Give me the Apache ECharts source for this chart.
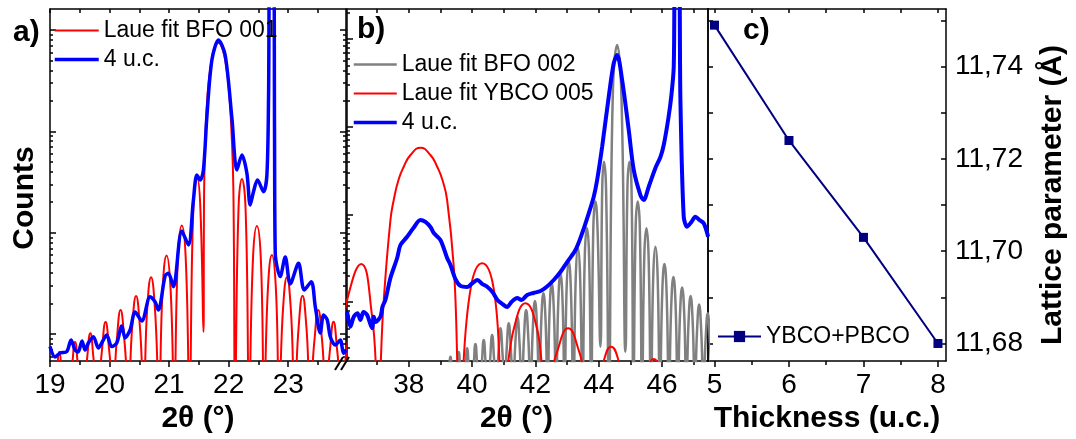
<!DOCTYPE html>
<html>
<head>
<meta charset="utf-8">
<script src="https://cdn.jsdelivr.net/npm/echarts@6/dist/echarts.min.js"></script>
<style>html,body{margin:0;padding:0;background:#fff;}#chart{width:1076px;height:439px;}</style>
</head>
<body>
<div id="chart"></div>
<script>
// ---------- DATA: [2θ (°), log10(Counts)] ; values below the axis minimum mark fringe minima that leave the plot ----------
// Panel a: Laue fit BFO 001
const aLaueFit001 = [
  [19.025,0.45],[19.092,0.525],[19.156,0.825],[19.220,0.525],[19.286,0.45],[19.356,0.621],[19.420,0.921],[19.484,0.621],
  [19.550,0.45],[19.613,0.707],[19.677,1.007],[19.741,0.707],[19.807,0.45],[19.869,0.818],[19.933,1.118],[19.997,0.818],
  [20.059,0.45],[20.121,0.937],[20.185,1.237],[20.249,0.937],[20.316,0.45],[20.381,1.075],[20.445,1.375],[20.509,1.075],
  [20.571,0.45],[20.633,1.260],[20.697,1.560],[20.761,1.260],[20.829,0.45],[20.894,1.475],[20.958,1.775],[21.022,1.475],
  [21.084,0.45],[21.149,1.771],[21.213,2.071],[21.277,1.771],[21.341,0.45],[21.407,2.240],[21.471,2.540],[21.525,2.240],
  [21.576,1.020],[21.588,2.422],[21.610,2.964],[21.649,3.389],[21.699,3.646],[21.766,3.823],[21.829,3.876],[21.891,3.823],
  [21.958,3.646],[22.008,3.389],[22.050,2.964],[22.079,2.422],[22.109,0.45],[22.165,2.230],[22.222,2.530],[22.284,2.230],
  [22.345,0.45],[22.410,1.766],[22.474,2.066],[22.538,1.766],[22.597,0.45],[22.662,1.480],[22.726,1.780],[22.790,1.480],
  [22.849,0.45],[22.914,1.260],[22.978,1.560],[23.042,1.260],[23.109,0.45],[23.176,1.078],[23.240,1.378],[23.304,1.078],
  [23.370,0.45],[23.440,0.937],[23.504,1.237],[23.568,0.937],[23.634,0.45],[23.697,0.821],[23.761,1.121],[23.825,0.821],
  [23.891,0.45],[23.956,0.720],[24.020,1.020]
];
// Panel a: 4 u.c. measurement
const aMeasured4uc = [
  [19.000,0.875],[19.084,0.773],[19.168,0.812],[19.281,0.825],[19.353,0.941],[19.420,0.842],[19.471,0.822],[19.538,0.931],
  [19.588,0.842],[19.644,0.911],[19.728,0.973],[19.812,0.862],[19.896,0.941],[19.953,0.990],[20.037,0.875],[20.121,0.911],
  [20.205,1.079],[20.261,0.961],[20.345,1.039],[20.429,1.217],[20.541,1.128],[20.681,1.368],[20.765,1.316],[20.820,1.237],
  [20.933,1.573],[20.988,1.599],[21.072,1.467],[21.213,2.017],[21.324,1.879],[21.408,2.323],[21.466,2.570],[21.521,2.520],
  [21.576,2.619],[21.634,3.145],[21.718,3.705],[21.829,3.902],[21.941,3.754],[22.054,3.132],[22.138,2.619],[22.222,2.767],
  [22.306,2.586],[22.361,2.273],[22.417,2.405],[22.484,2.520],[22.585,2.405],[22.642,2.570],[22.669,3.310],[22.697,5.0],
  [22.752,5.0],[22.770,2.984],[22.782,1.800],[22.866,1.566],[22.950,1.760],[23.034,1.494],[23.173,1.698],[23.269,1.434],
  [23.387,1.516],[23.454,1.270],[23.538,1.010],[23.593,1.188],[23.655,1.138],[23.706,0.973],[23.790,0.891],[23.874,0.941],
  [23.929,0.809],[23.975,0.842]
];
// Panel b: Laue fit BFO 002
const bLaueFitBFO002 = [
  [39.190,0.0],[39.251,0.076],[39.317,0.376],[39.383,0.076],[39.448,0.0],[39.513,0.130],[39.579,0.430],[39.645,0.130],
  [39.711,0.0],[39.778,0.172],[39.844,0.472],[39.910,0.172],[39.975,0.0],[40.040,0.221],[40.106,0.521],[40.172,0.221],
  [40.237,0.0],[40.302,0.267],[40.368,0.567],[40.434,0.267],[40.500,0.0],[40.567,0.324],[40.633,0.624],[40.699,0.324],
  [40.765,0.0],[40.830,0.400],[40.896,0.700],[40.962,0.400],[41.027,0.0],[41.092,0.457],[41.158,0.757],[41.224,0.457],
  [41.295,0.0],[41.366,0.532],[41.432,0.832],[41.498,0.532],[41.570,0.0],[41.641,0.609],[41.707,0.909],[41.773,0.609],
  [41.846,0.0],[41.919,0.711],[41.985,1.011],[42.051,0.711],[42.119,0.0],[42.187,0.799],[42.253,1.099],[42.319,0.799],
  [42.384,0.0],[42.449,0.913],[42.515,1.213],[42.581,0.913],[42.653,0.0],[42.724,1.019],[42.790,1.319],[42.856,1.019],
  [42.921,0.0],[42.986,1.160],[43.052,1.460],[43.118,1.160],[43.198,0.0],[43.277,1.316],[43.343,1.616],[43.409,1.316],
  [43.485,0.0],[43.561,1.544],[43.627,1.844],[43.693,1.544],[43.761,0.0],[43.829,1.846],[43.895,2.146],[43.960,1.846],
  [44.053,0.490],[44.110,2.300],[44.164,2.600],[44.230,2.300],[44.321,0.0],[44.442,3.342],[44.580,3.931],[44.717,3.342],
  [44.843,0.433],[44.906,2.300],[44.969,2.600],[45.035,2.300],[45.095,0.0],[45.165,1.846],[45.231,2.146],[45.297,1.846],
  [45.368,0.0],[45.440,1.541],[45.506,1.841],[45.572,1.541],[45.648,0.0],[45.724,1.331],[45.790,1.631],[45.856,1.331],
  [45.932,0.0],[46.008,1.133],[46.074,1.433],[46.140,1.133],[46.216,0.0],[46.292,0.985],[46.358,1.285],[46.424,0.985],
  [46.495,0.0],[46.567,0.865],[46.633,1.165],[46.699,0.865],[46.767,0.0],[46.835,0.768],[46.901,1.068],[46.967,0.768],
  [47.035,0.0],[47.104,0.671],[47.170,0.971],[47.236,0.671],[47.305,0.0],[47.375,0.571],[47.441,0.871],[47.507,0.571],
  [47.580,0.0]
];
// Panel b: Laue fit YBCO 005
const bLaueFitYBCO005 = [
  [35.900,0.60],[36.055,1.023],[36.497,1.433],[36.844,0.832],[37.027,0.0],[37.211,1.023],[37.422,1.935],[37.526,2.163],
  [37.675,2.392],[37.842,2.543],[38.054,2.677],[38.369,2.760],[38.685,2.677],[38.897,2.543],[39.064,2.392],[39.212,2.163],
  [39.421,1.403],[39.632,0.0],[39.958,1.161],[40.318,1.441],[40.678,1.161],[40.990,0.0],[41.325,0.705],[41.685,0.985],
  [42.045,0.705],[42.348,0.0],[42.673,0.420],[43.033,0.700],[43.393,0.420],[43.706,0.0],[44.031,0.210],[44.391,0.490],
  [44.751,0.210],[45.064,0.0],[45.376,0.070],[45.736,0.350],[46.096,0.070],[46.420,0.0]
];
// Panel b: 4 u.c. measurement
const bMeasured4uc = [
  [36.055,0.886],[36.159,0.718],[36.263,0.832],[36.380,0.871],[36.475,0.795],[36.570,0.886],[36.686,0.852],[36.844,0.700],
  [36.895,0.832],[36.949,0.772],[37.106,0.832],[37.170,0.946],[37.263,1.023],[37.421,1.274],[37.634,1.502],[37.738,1.650],
  [37.949,1.745],[38.148,1.844],[38.369,1.935],[38.527,1.913],[38.685,1.855],[38.789,1.787],[39.001,1.707],[39.212,1.502],
  [39.317,1.422],[39.475,1.262],[39.632,1.183],[39.844,1.171],[39.980,1.205],[40.169,1.251],[40.327,1.205],[40.485,1.171],
  [40.643,1.114],[40.801,1.023],[40.959,0.977],[41.107,0.943],[41.243,1.000],[41.423,1.046],[41.559,1.023],[41.739,1.080],
  [41.938,1.103],[42.159,1.125],[42.348,1.171],[42.578,1.251],[42.790,1.342],[43.002,1.456],[43.264,1.593],[43.475,1.784],
  [43.684,2.012],[43.842,2.201],[43.949,2.392],[44.107,2.771],[44.315,3.342],[44.473,3.723],[44.580,3.817],[44.738,3.532],
  [44.947,2.962],[45.105,2.506],[45.316,2.220],[45.420,2.163],[45.578,2.315],[45.790,2.528],[45.948,2.654],[46.052,2.791],
  [46.200,3.099],[46.295,3.361],[46.368,3.684],[46.421,5.0],[46.525,5.0],[46.579,3.304],[46.683,1.973],[46.791,1.859],
  [46.926,1.913],[47.053,1.973],[47.179,1.935],[47.315,1.898],[47.454,1.745]
];
// Panel c
const cThickness = [5, 6, 7, 8];
const cLattice = [11.749, 11.724, 11.703, 11.680];

// Tick values
const aXTicks = [19, 20, 21, 22, 23];
const aXMinor = [19.5, 20.5, 21.5, 22.5, 23.5];
const bXTicks = [38, 40, 42, 44, 46];
const bXMinor = [37, 39, 41, 43, 45, 47];
const cXTicks = [5, 6, 7, 8];
const cXMinor = [5.5, 6.5, 7.5];
const logDecades = [1, 2, 3, 4];
const cYTicks = [11.68, 11.69, 11.70, 11.71, 11.72, 11.73, 11.74, 11.75];
const cYLabels = [11.68, 11.70, 11.72, 11.74];

// ---------- CHART ----------
const FONT = '"Liberation Sans", Arial, Helvetica, sans-serif';
const K = '#000';
const zip = (xs, ys) => xs.map((x, i) => [x, ys[i]]);
function logMinor(lo, hi) {
  const out = [];
  for (let n = -1; n <= 5; n++) for (let k = 2; k <= 9; k++) {
    const v = n + Math.log10(k);
    if (v > lo && v < hi) out.push(v);
  }
  return out;
}
function ax(o) {
  return {
    gridIndex: o.grid, type: 'value', min: o.min, max: o.max, position: o.pos,
    axisLine: { show: !!o.line, onZero: false, lineStyle: { color: K, width: 1.5 } },
    axisTick: { show: true, inside: !!o.inside, length: o.len, customValues: o.ticks, lineStyle: { color: K, width: 1.5 } },
    axisLabel: o.labels ? { show: true, customValues: o.labels, color: K, fontSize: 28, fontFamily: FONT, margin: o.margin, formatter: o.fmt } : { show: false },
    splitLine: { show: false }, minorTick: { show: false }, minorSplitLine: { show: false },
    name: o.name || '', nameLocation: 'middle', nameGap: o.nameGap || 0,
    nameTextStyle: { fontSize: 30, fontWeight: 'bold', color: K, fontFamily: FONT, padding: o.namePad || 0 },
    axisPointer: { show: false }, silent: true
  };
}
const A = { x: [19, 23.97], y: [0.733, 4.208] };
const B = { x: [36.05, 47.45], y: [0.327, 4.342] };
const C = { x: [4.913, 8.108], y: [11.6762, 11.7525] };

const xAxis = [
  ax({ grid: 0, min: A.x[0], max: A.x[1], pos: 'bottom', line: true, len: 6, ticks: aXTicks, labels: aXTicks, margin: 10, name: '2θ (°)', nameGap: 42 }),
  ax({ grid: 0, min: A.x[0], max: A.x[1], pos: 'bottom', len: 4, ticks: aXMinor }),
  ax({ grid: 0, min: A.x[0], max: A.x[1], pos: 'top', line: true, inside: true, len: 4, ticks: aXTicks.concat(aXMinor) }),
  ax({ grid: 1, min: B.x[0], max: B.x[1], pos: 'bottom', line: true, len: 6, ticks: bXTicks, labels: bXTicks, margin: 10, name: '2θ (°)', nameGap: 42, namePad: [0, 22, 0, 0] }),
  ax({ grid: 1, min: B.x[0], max: B.x[1], pos: 'bottom', len: 4, ticks: bXMinor }),
  ax({ grid: 1, min: B.x[0], max: B.x[1], pos: 'top', line: true, inside: true, len: 4, ticks: bXTicks.concat(bXMinor) }),
  ax({ grid: 2, min: C.x[0], max: C.x[1], pos: 'bottom', line: true, len: 6, ticks: cXTicks, labels: cXTicks, margin: 10, name: 'Thickness (u.c.)', nameGap: 42 }),
  ax({ grid: 2, min: C.x[0], max: C.x[1], pos: 'bottom', len: 4, ticks: cXMinor }),
  ax({ grid: 2, min: C.x[0], max: C.x[1], pos: 'top', line: true, inside: true, len: 4, ticks: cXTicks.concat(cXMinor) })
];
const yAxis = [
  ax({ grid: 0, min: A.y[0], max: A.y[1], pos: 'left', line: true, inside: true, len: 6, ticks: logDecades }),
  ax({ grid: 0, min: A.y[0], max: A.y[1], pos: 'left', inside: true, len: 3, ticks: logMinor(A.y[0], A.y[1]) }),
  ax({ grid: 0, min: A.y[0], max: A.y[1], pos: 'right', line: true, inside: true, len: 6, ticks: logDecades }),
  ax({ grid: 0, min: A.y[0], max: A.y[1], pos: 'right', inside: true, len: 3, ticks: logMinor(A.y[0], A.y[1]) }),
  ax({ grid: 1, min: B.y[0], max: B.y[1], pos: 'left', line: true, inside: true, len: 6, ticks: logDecades }),
  ax({ grid: 1, min: B.y[0], max: B.y[1], pos: 'left', inside: true, len: 3, ticks: logMinor(B.y[0], B.y[1]) }),
  ax({ grid: 1, min: B.y[0], max: B.y[1], pos: 'right', line: true, inside: true, len: 0, ticks: [] }),
  ax({ grid: 2, min: C.y[0], max: C.y[1], pos: 'left', line: true, inside: true, len: 5, ticks: cYTicks }),
  ax({ grid: 2, min: C.y[0], max: C.y[1], pos: 'right', line: true, inside: true, len: 5, ticks: cYTicks, labels: cYLabels, margin: 9,
       fmt: v => Number(v).toFixed(2).replace('.', ',') })
];

function lineSeries(name, xi, yi, data, color, width, smooth) {
  return {
    type: 'line', name, xAxisIndex: xi, yAxisIndex: yi, data,
    symbol: 'none', smooth, clip: true, silent: true,
    lineStyle: { color, width }, itemStyle: { color }
  };
}

const series = [
  lineSeries('Laue fit BFO 001', 0, 0, aLaueFit001, '#ff0000', 2, 0.5),
  lineSeries('4 u.c.', 0, 0, aMeasured4uc, '#0000ff', 3.5, 0.3),
  lineSeries('Laue fit BFO 002', 3, 4, bLaueFitBFO002, '#808080', 2.5, 0.5),
  lineSeries('Laue fit YBCO 005', 3, 4, bLaueFitYBCO005, '#ff0000', 2, 0.5),
  lineSeries('4 u.c.', 3, 4, bMeasured4uc, '#0000ff', 4, 0.3),
  {
    type: 'line', name: 'YBCO+PBCO', xAxisIndex: 6, yAxisIndex: 7, data: zip(cThickness, cLattice),
    symbol: 'rect', symbolSize: 9, silent: true,
    lineStyle: { color: '#000080', width: 2 }, itemStyle: { color: '#000080' }
  }
];

const legendText = { fontSize: 23, lineHeight: 29, color: K, fontFamily: FONT };
const noSym = { opacity: 0 };
const legend = [
  { left: 53, top: 16, orient: 'vertical', itemWidth: 44, itemHeight: 14, itemGap: 0, padding: 0, selectedMode: false, textStyle: legendText,
    data: [{ name: 'Laue fit BFO 001', itemStyle: noSym, lineStyle: { width: 2 } }, { name: '4 u.c.', itemStyle: noSym, lineStyle: { width: 3.5 } }] },
  { left: 352, top: 50, orient: 'vertical', itemWidth: 43, itemHeight: 14, itemGap: 0, padding: 0, selectedMode: false, textStyle: legendText,
    data: [{ name: 'Laue fit BFO 002', itemStyle: noSym, lineStyle: { width: 2.5 } }, { name: 'Laue fit YBCO 005', itemStyle: noSym, lineStyle: { width: 2 } }, { name: '4 u.c.', itemStyle: noSym, lineStyle: { width: 3.5 } }] },
  { left: 717, top: 322, orient: 'vertical', itemWidth: 43, itemHeight: 14, itemGap: 0, padding: 0, selectedMode: false, textStyle: legendText,
    data: [{ name: 'YBCO+PBCO', lineStyle: { width: 2 } }] }
];

const txt = (text, x, y, size, align, rot) => ({
  type: 'text', x, y, rotation: rot || 0, silent: true, z: 100,
  style: { text, font: 'bold ' + size + 'px ' + FONT, fill: K, textAlign: align || 'left', textVerticalAlign: 'middle' }
});

const option = {
  animation: false,
  backgroundColor: '#fff',
  grid: [
    { left: 50, top: 9, width: 296, height: 352, containLabel: false },
    { left: 347, top: 9, width: 361, height: 352, containLabel: false },
    { left: 708, top: 9, width: 238, height: 352, containLabel: false }
  ],
  xAxis, yAxis, series, legend,
  graphic: [
    txt('a)', 13, 33, 30),
    txt('b)', 357, 30, 30),
    txt('c)', 743, 31, 30),
    txt('Counts', 25, 198, 30, 'center', Math.PI / 2),
    txt('Lattice parameter (Å)', 1053, 195, 30, 'center', Math.PI / 2),
    { type: 'line', silent: true, z: 100, shape: { x1: 335, y1: 370, x2: 343, y2: 357 }, style: { stroke: K, lineWidth: 2 } },
    { type: 'line', silent: true, z: 100, shape: { x1: 341, y1: 370, x2: 349, y2: 357 }, style: { stroke: K, lineWidth: 2 } }
  ]
};

const chart = echarts.init(document.getElementById('chart'), null, { renderer: 'canvas' });
chart.setOption(option);
</script>
</body>
</html>
